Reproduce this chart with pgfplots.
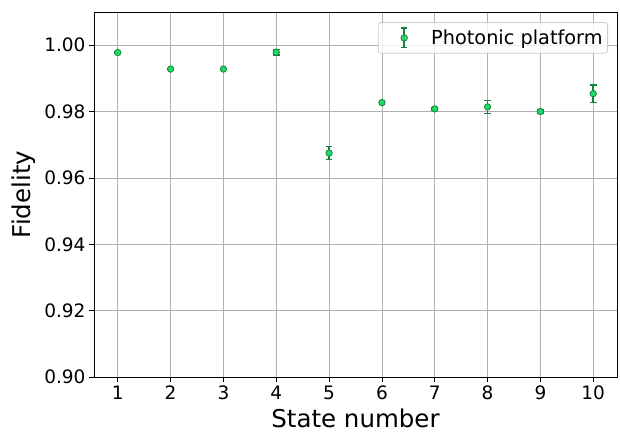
\documentclass[border=0pt]{standalone}
\usepackage{fontspec}
\setmainfont{DejaVu Sans}
\usepackage{pgfplots}
\pgfplotsset{compat=1.18}
\definecolor{mfill}{HTML}{1FDC6A}
\definecolor{medge}{HTML}{14843C}
\definecolor{gridc}{HTML}{B0B0B0}

\pgfplotstableread{
x y e
1 0.9978 0.0003
2 0.9928 0.0002
3 0.9928 0.0002
4 0.9979 0.0008
5 0.9675 0.0020
6 0.9827 0.0005
7 0.9808 0.0003
8 0.9814 0.0020
9 0.9800 0.0004
10 0.9854 0.0026
}\fid

\begin{document}
\begin{tikzpicture}[x=1pt,y=1pt]
\begin{axis}[
  scale only axis, width=523pt, height=365pt,
  xmin=0.55, xmax=10.45, ymin=0.90, ymax=1.01,
  xtick={1,2,3,4,5,6,7,8,9,10},
  ytick={0.90,0.92,0.94,0.96,0.98,1.00},
  yticklabel style={/pgf/number format/.cd, fixed, fixed zerofill, precision=2},
  /pgf/number format/assume math mode=true,
  tick label style={font=\fontsize{18.5}{22}\selectfont},
  tick align=outside, tick pos=left,
  major tick length=5pt,
  every tick/.style={black, line width=0.8pt},
  axis line style={black, line width=0.8pt},
  grid=major, major grid style={gridc, line width=0.8pt},
  xlabel={State number}, ylabel={Fidelity},
  label style={font=\fontsize{24.5}{29}\selectfont},
  xlabel style={at={(axis description cs:0.5,-0.112)}, anchor=center},
  ylabel style={at={(axis description cs:-0.134,0.5)}, anchor=center},
  legend style={at={(rel axis cs:1,1)}, anchor=north east, xshift=-9pt, yshift=-10pt,
    draw=black!20, line width=0.8pt, rounded corners=3pt, fill=white, fill opacity=0.8, text opacity=1,
    font=\fontsize{19.3}{23}\selectfont, inner xsep=3pt, inner ysep=5pt},
  legend cell align=left,
  legend image code/.code={
    \path[draw=none, fill=none] (0pt,0) -- (48pt,0);
    \draw[medge, line width=1.5pt] (23pt,-9.7pt) -- (23pt,9.7pt);
    \draw[medge, line width=1.5pt] (19.7pt,-9.7pt) -- (26.3pt,-9.7pt);
    \draw[medge, line width=1.5pt] (19.7pt,9.7pt) -- (26.3pt,9.7pt);
    \draw[medge, fill=mfill, line width=0.8pt] (23pt,0) circle (3.2pt);
  },
]
\addplot[only marks, mark=*, mark size=3.2pt,
  mark options={fill=mfill, draw=medge, line width=0.8pt},
  error bars/.cd, y dir=both, y explicit,
  error bar style={medge, line width=1.5pt},
  error mark options={rotate=90, mark size=3.3pt, line width=1.5pt, medge}]
  table[x=x, y=y, y error=e] {\fid};
\addlegendentry{Photonic platform}
\end{axis}
\pgfresetboundingbox
\path (-94,-55) rectangle (526,377);
\end{tikzpicture}
\end{document}
